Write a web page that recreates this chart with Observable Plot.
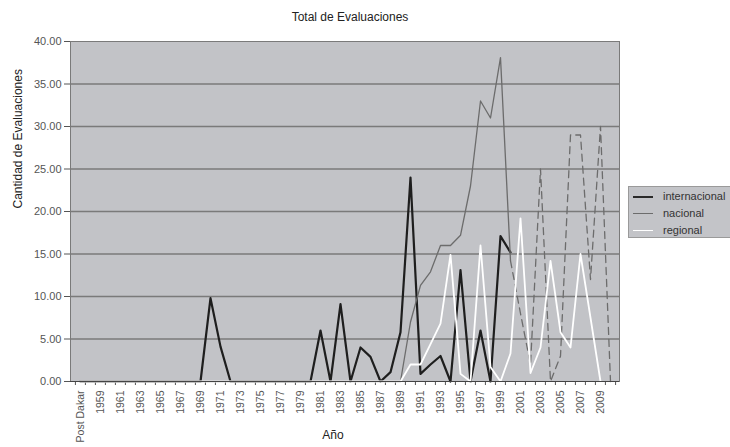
<!DOCTYPE html>
<html>
<head>
<meta charset="utf-8">
<script src="https://cdn.jsdelivr.net/npm/d3@7"></script>
<script src="https://cdn.jsdelivr.net/npm/@observablehq/plot@0.6"></script>
<style>
  body { margin: 0; background: #fff; font-family: "Liberation Sans", Arial, sans-serif; }
  #wrap { position: relative; width: 730px; height: 447px; overflow: hidden; }
  #legend { position: absolute; left: 628px; top: 186px; width: 110px; height: 52px;
            background: #c3c4c8; border: 1px solid #9a9a9a; box-sizing: border-box; }
  .item { position: absolute; left: 0; height: 14px; width: 110px; font-size: 11px; color: #333; }
  .item span.sw { position: absolute; left: 4px; top: 6px; width: 20px; height: 0; }
  .item span.tx { position: absolute; left: 34px; top: 0; line-height: 13px; }
</style>
</head>
<body>
<div id="wrap"></div>
<script>
const categories = ["Post Dakar","1958","1959","1960","1961","1962","1963","1964","1965","1966","1967","1968","1969","1970","1971","1972","1973","1974","1975","1976","1977","1978","1979","1980","1981","1982","1983","1984","1985","1986","1987","1988","1989","1990","1991","1992","1993","1994","1995","1996","1997","1998","1999","2000","2001","2002","2003","2004","2005","2006","2007","2008","2009","2010"];
const tickLabels = ["Post Dakar","1959","1961","1963","1965","1967","1969","1971","1973","1975","1977","1979","1981","1983","1985","1987","1989","1991","1993","1995","1997","1999","2001","2003","2005","2007","2009"];
const yTicks = [0,5,10,15,20,25,30,35,40];

// Post Dakar, 1958 ... 2010
const internacional = [0, 0,0,0,0,0,0,0,0,0,0,0, 0,9.8,4.1,0, 0,0,0,0,0,0,0, 0,6,0,9.1,0,4,2.9,0,1.1,5.8, 24,0.9,2,3,0,13.1,0,6,0,17.1,15.2, null,null,null,null,null,null,null,null,null,null];
const nacional      = [0, 0,0,0,0,0,0,0,0,0,0,0, 0,0,0,0, 0,0,0,0,0,0,0, 0,0,0,0,0,0,0,0,0,0, 7,11.3,12.9,16,16,17.2,23,33,31,38.1,14.2, 8,2,25,0,3,29,29,12,30,0];
const regional      = [0, 0,0,0,0,0,0,0,0,0,0,0, 0,0,0,0, 0,0,0,0,0,0,0, 0,0,0,0,0,0,0,0,0,0, 2,2,4.4,6.8,14.9,0.9,0,16,1.7,0,3.3, 19.2,1,4,14.2,5.8,4,15,7.5,0,null];
const dashFrom = "2000";

const W = 730, H = 447, mL = 70, mR = 111, mT = 41, mB = 66;
const step = (W - mL - mR) / categories.length;
const rows = vals => categories.map((c, i) => ({cat: c, v: vals[i]}));
const di = categories.indexOf(dashFrom);
const nacRows = rows(nacional);

const chart = Plot.plot({
  width: W, height: H,
  marginLeft: mL, marginRight: mR, marginTop: mT, marginBottom: mB,
  style: {fontFamily: "'Liberation Sans', Arial, sans-serif", background: "transparent", overflow: "visible"},
  x: {type: "point", domain: categories, padding: 0.5, axis: null},
  y: {domain: [0, 40], axis: null},
  marks: [
    Plot.frame({fill: "#c2c3c7", stroke: "#7a7a7a"}),
    Plot.gridY(yTicks.filter(d => d > 0 && d < 40), {stroke: "#7a7a7a", strokeOpacity: 1, strokeWidth: 1.3}),
    Plot.axisY({ticks: yTicks, tickFormat: d3.format(".2f"), tickSize: 6, tickPadding: 3, fontSize: 11, label: null, stroke: "#555", fill: "#555"}),
    Plot.axisX({ticks: categories, tickSize: 4, tickFormat: () => "", dx: -step / 2, label: null, stroke: "#555"}),
    Plot.axisX({ticks: [categories[categories.length - 1]], tickSize: 4, tickFormat: () => "", dx: step / 2, label: null, stroke: "#555"}),
    Plot.axisX({ticks: tickLabels, tickSize: 0, tickPadding: 9, tickRotate: -90, fontSize: 10.5, label: null, fill: "#555"}),
    Plot.line(rows(internacional), {x: "cat", y: "v", stroke: "#1e1e1e", strokeWidth: 2.2}),
    Plot.line(nacRows.slice(0, di + 1), {x: "cat", y: "v", stroke: "#6c6c6c", strokeWidth: 1.3}),
    Plot.line(nacRows.slice(di), {x: "cat", y: "v", stroke: "#6c6c6c", strokeWidth: 1.3, strokeDasharray: "7,5"}),
    Plot.line(rows(regional), {x: "cat", y: "v", stroke: "#ffffff", strokeWidth: 1.8}),
    Plot.ruleY([0], {stroke: "#444", strokeWidth: 1.2}),
    Plot.text(["Total de Evaluaciones"], {frameAnchor: "top", dy: -29, dx: 5, fontSize: 12, fill: "#222"}),
    Plot.text(["Cantidad de Evaluaciones"], {frameAnchor: "left", dx: -52, dy: -3, rotate: -90, fontSize: 12, fill: "#222"}),
    Plot.text(["Año"], {frameAnchor: "bottom", dy: 57, dx: -12, fontSize: 12, fill: "#222"})
  ]
});

const wrap = document.getElementById("wrap");
wrap.appendChild(chart);

const legendItems = [
  {name: "internacional", color: "#2a2a2a", w: 2},
  {name: "nacional", color: "#6c6c6c", w: 1.5},
  {name: "regional", color: "#ffffff", w: 1.8}
];
const lg = document.createElement("div");
lg.id = "legend";
legendItems.forEach((d, i) => {
  const it = document.createElement("div");
  it.className = "item";
  it.style.top = (3 + i * 17) + "px";
  it.innerHTML = `<span class="sw" style="border-top:${d.w}px solid ${d.color}"></span><span class="tx">${d.name}</span>`;
  lg.appendChild(it);
});
wrap.appendChild(lg);
</script>
</body>
</html>
